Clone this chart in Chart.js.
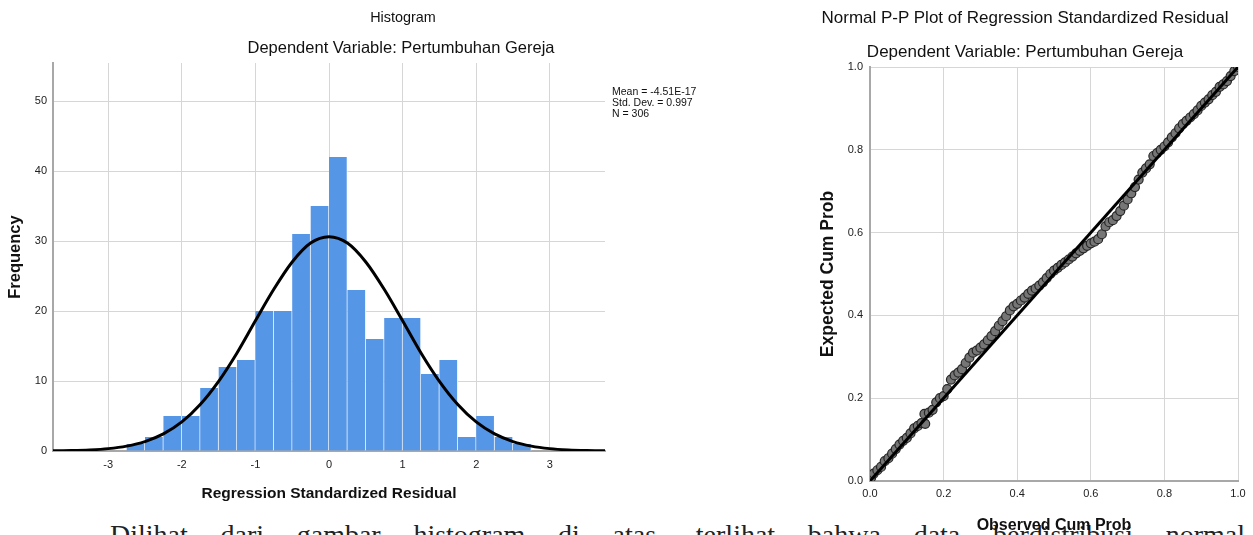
<!DOCTYPE html>
<html><head><meta charset="utf-8">
<script src="https://cdn.jsdelivr.net/npm/chart.js@4.4.1/dist/chart.umd.min.js"></script>
<style>
html,body{margin:0;padding:0;background:#fff;width:1253px;height:535px;overflow:hidden;font-family:"Liberation Sans",Arial,sans-serif;}
.abs{position:absolute;white-space:nowrap;color:#111;}
#histCanvas{position:absolute;left:0;top:0;}
#ppCanvas{position:absolute;left:760px;top:0;}
#bodyText{position:absolute;left:110px;top:518px;width:1135px;font-family:"Liberation Serif","Times New Roman",serif;font-size:28px;line-height:34px;color:#222;text-align:justify;text-align-last:justify;white-space:nowrap;}
</style></head><body>
<div id="bodyText">Dilihat dari gambar histogram di atas, terlihat bahwa data berdistribusi normal</div>
<canvas id="histCanvas" width="620" height="503"></canvas>
<canvas id="ppCanvas" width="493" height="535"></canvas>
<div class="abs" style="left:103px;width:600px;text-align:center;top:8px;font-size:14.4px;line-height:18px;">Histogram</div>
<div class="abs" style="left:101px;width:600px;text-align:center;top:38px;font-size:16.5px;line-height:19px;">Dependent Variable: Pertumbuhan Gereja</div>
<div class="abs" style="left:612px;top:86px;font-size:10.5px;line-height:10.8px;">Mean = -4.51E-17<br>Std. Dev. = 0.997<br>N = 306</div>
<div class="abs" style="left:725px;width:600px;text-align:center;top:8px;font-size:17px;line-height:20px;">Normal P-P Plot of Regression Standardized Residual</div>
<div class="abs" style="left:725px;width:600px;text-align:center;top:42px;font-size:17px;line-height:20px;">Dependent Variable: Pertumbuhan Gereja</div>
<script>
// Histogram data
const binCenters = [-2.625,-2.375,-2.125,-1.875,-1.625,-1.375,-1.125,-0.875,-0.625,-0.375,-0.125,0.125,0.375,0.625,0.875,1.125,1.375,1.625,1.875,2.125,2.375,2.625];
const frequencies = [1,2,5,5,9,12,13,20,20,31,35,42,23,16,19,19,11,13,2,5,2,1];
// Normal curve
const curveX = [-3.75,-3.5,-3.25,-3,-2.75,-2.5,-2.25,-2,-1.75,-1.5,-1.25,-1,-0.75,-0.5,-0.25,0,0.25,0.5,0.75,1,1.25,1.5,1.75,2,2.25,2.5,2.75,3,3.25,3.5,3.75];
const curveY = [0.03,0.07,0.16,0.34,0.70,1.35,2.44,4.15,6.64,9.95,14.0,18.6,23.1,27.0,29.7,30.6,29.7,27.0,23.1,18.6,14.0,9.95,6.64,4.15,2.44,1.35,0.70,0.34,0.16,0.07,0.03];
const histXTicks = [-3,-2,-1,0,1,2,3];
const histYTicks = [0,10,20,30,40,50];

// P-P plot data
const observedCumProb = [0.003,0.01,0.02,0.03,0.04,0.05,0.06,0.07,0.08,0.09,0.10,0.11,0.12,0.13,0.14,0.148,0.15,0.16,0.17,0.18,0.19,0.20,0.21,0.22,0.23,0.24,0.25,0.26,0.27,0.28,0.29,0.30,0.31,0.32,0.33,0.34,0.35,0.36,0.37,0.38,0.39,0.40,0.41,0.42,0.43,0.44,0.45,0.46,0.47,0.48,0.49,0.50,0.51,0.52,0.53,0.54,0.55,0.56,0.57,0.58,0.59,0.60,0.61,0.62,0.63,0.64,0.65,0.66,0.67,0.68,0.69,0.70,0.71,0.72,0.73,0.74,0.75,0.76,0.77,0.78,0.79,0.80,0.81,0.82,0.83,0.84,0.85,0.86,0.87,0.88,0.89,0.90,0.91,0.92,0.93,0.94,0.95,0.96,0.97,0.98,0.99,1.0];
const expectedCumProb = [0.008,0.018,0.026,0.034,0.048,0.055,0.066,0.077,0.088,0.097,0.104,0.115,0.127,0.133,0.14,0.162,0.138,0.165,0.172,0.19,0.2,0.205,0.222,0.245,0.255,0.262,0.27,0.285,0.298,0.31,0.315,0.322,0.33,0.34,0.35,0.362,0.375,0.386,0.398,0.412,0.422,0.428,0.436,0.443,0.452,0.46,0.465,0.472,0.48,0.49,0.5,0.508,0.515,0.522,0.528,0.535,0.542,0.55,0.556,0.562,0.568,0.574,0.578,0.584,0.596,0.615,0.625,0.63,0.64,0.652,0.665,0.68,0.695,0.71,0.728,0.745,0.755,0.765,0.785,0.792,0.8,0.808,0.818,0.83,0.84,0.852,0.862,0.87,0.878,0.886,0.895,0.906,0.914,0.922,0.932,0.94,0.952,0.958,0.966,0.978,0.99,1.0];
const refLineX = [0,1];
const refLineY = [0,1];
const ppTicks = [0,0.2,0.4,0.6,0.8,1.0];

const FONT = 'Liberation Sans';
const gridColor = '#d6d6d6';
const axisColor = '#a8a8a8';

new Chart(document.getElementById('histCanvas'), {
  type: 'bar',
  data: { datasets: [
    { type: 'line', data: curveX.map((x, i) => ({x: x, y: curveY[i]})), borderColor: '#000', borderWidth: 3,
      pointRadius: 0, cubicInterpolationMode: 'monotone', fill: false, order: 0 },
    { type: 'bar', data: binCenters.map((x, i) => ({x: x, y: frequencies[i]})), backgroundColor: '#5596e6',
      borderColor: 'rgba(255,255,255,0.85)', borderWidth: {left: 0, right: 1, top: 0, bottom: 0}, borderSkipped: false,
      barPercentage: 1, categoryPercentage: 1, order: 1 }
  ]},
  options: {
    responsive: false, animation: false,
    plugins: { legend: {display: false}, tooltip: {enabled: false} },
    layout: { padding: {left: 0, top: 63, right: 15, bottom: 0} },
    scales: {
      x: { type: 'linear', min: -3.75, max: 3.75, offset: false,
        afterBuildTicks: s => { s.ticks = histXTicks.map(v => ({value: v})); },
        afterFit: s => { s.height = 52; },
        grid: {color: gridColor, lineWidth: 1, drawTicks: false, offset: false},
        border: {display: true, color: axisColor, width: 2},
        ticks: {padding: 7, color: '#222', font: {family: FONT, size: 11}, maxRotation: 0, autoSkip: false},
        title: {display: true, text: 'Regression Standardized Residual', color: '#111',
          font: {family: FONT, size: 15.5, weight: 'bold'}, padding: {top: 0, bottom: 0}}
      },
      y: { type: 'linear', min: 0, max: 55.43,
        afterBuildTicks: s => { s.ticks = histYTicks.map(v => ({value: v})); },
        afterFit: s => { s.width = 53; },
        grid: {color: gridColor, lineWidth: 1, drawTicks: false},
        border: {display: true, color: axisColor, width: 2},
        ticks: {padding: 6, color: '#222', font: {family: FONT, size: 11}},
        title: {display: true, text: 'Frequency', color: '#111',
          font: {family: FONT, size: 16.5, weight: 'bold'}, padding: {top: 6, bottom: 0}}
      }
    }
  }
});

new Chart(document.getElementById('ppCanvas'), {
  type: 'scatter',
  data: { datasets: [
    { type: 'line', data: refLineX.map((x, i) => ({x: x, y: refLineY[i]})), borderColor: '#000', borderWidth: 3,
      pointRadius: 0, fill: false, order: 0 },
    { type: 'scatter', data: observedCumProb.map((x, i) => ({x: x, y: expectedCumProb[i]})),
      pointRadius: 4.5, backgroundColor: '#767676', borderColor: '#262626', borderWidth: 1.2, order: 1 }
  ]},
  options: {
    responsive: false, animation: false,
    plugins: { legend: {display: false}, tooltip: {enabled: false} },
    layout: { padding: {left: 50, top: 67, right: 15, bottom: 0} },
    scales: {
      x: { type: 'linear', min: 0, max: 1,
        afterBuildTicks: s => { s.ticks = ppTicks.map(v => ({value: v})); },
        afterFit: s => { s.height = 54; },
        grid: {color: gridColor, lineWidth: 1, drawTicks: false},
        border: {display: true, color: axisColor, width: 2},
        ticks: {padding: 6, color: '#222', font: {family: FONT, size: 11}, maxRotation: 0, autoSkip: false,
          callback: v => Number(v).toFixed(1)},
        title: {display: true, text: 'Observed Cum Prob', color: '#111',
          font: {family: FONT, size: 16, weight: 'bold'}, padding: {top: 0, bottom: 0}}
      },
      y: { type: 'linear', min: 0, max: 1,
        afterBuildTicks: s => { s.ticks = ppTicks.map(v => ({value: v})); },
        afterFit: s => { s.width = 60; },
        grid: {color: gridColor, lineWidth: 1, drawTicks: false},
        border: {display: true, color: axisColor, width: 2},
        ticks: {padding: 7, color: '#222', font: {family: FONT, size: 11},
          callback: v => Number(v).toFixed(1)},
        title: {display: true, text: 'Expected Cum Prob', color: '#111',
          font: {family: FONT, size: 17.5, weight: 'bold'}, padding: {top: 8, bottom: 0}}
      }
    }
  }
});
</script>
</body></html>
